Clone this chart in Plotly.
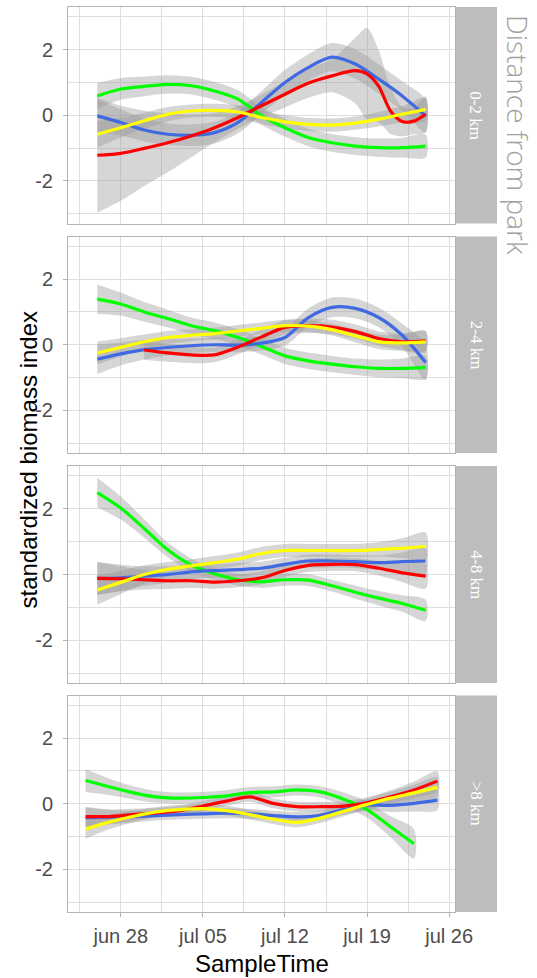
import plotly.graph_objects as go
from plotly.subplots import make_subplots

# ---------------- data ----------------
facet_labels = ["0-2 km", "2-4 km", "4-8 km", ">8 km"]
x_tick_vals = ["2019-06-28", "2019-07-05", "2019-07-12", "2019-07-19", "2019-07-26"]
x_tick_text = ["jun 28", "jul 05", "jul 12", "jul 19", "jul 26"]
y_tick_vals = [-2, 0, 2]
y_tick_text = ["-2", "0", "2"]

dates_a = ["2019-06-26", "2019-06-28", "2019-06-30", "2019-07-02", "2019-07-04",
           "2019-07-06", "2019-07-08", "2019-07-10", "2019-07-12", "2019-07-14",
           "2019-07-16", "2019-07-18", "2019-07-20", "2019-07-22", "2019-07-24"]
dates_b = ["2019-06-25", "2019-06-27", "2019-06-29", "2019-07-01", "2019-07-03",
           "2019-07-05", "2019-07-07", "2019-07-09", "2019-07-11", "2019-07-13",
           "2019-07-15", "2019-07-17", "2019-07-19", "2019-07-21", "2019-07-23",
           "2019-07-25"]

# panel 0-2 km
p1_green = [0.59, 0.80, 0.88, 0.94, 0.90, 0.74, 0.49, -0.02, -0.38, -0.68, -0.84, -0.94, -0.99, -0.99, -0.94]
p1_green_se = [0.40, 0.33, 0.30, 0.28, 0.27, 0.27, 0.27, 0.27, 0.27, 0.27, 0.27, 0.27, 0.28, 0.30, 0.35]
p1_blue = [-0.02, -0.22, -0.45, -0.58, -0.61, -0.53, -0.22, 0.39, 1.00, 1.46, 1.77, 1.56, 1.10, 0.59, -0.02]
p1_blue_se = [0.50, 0.40, 0.35, 0.33, 0.33, 0.33, 0.33, 0.35, 0.38, 0.40, 0.43, 0.45, 0.45, 0.45, 0.50]
p1_red_dates = ["2019-06-26", "2019-06-28", "2019-06-30", "2019-07-02", "2019-07-04",
                "2019-07-06", "2019-07-08", "2019-07-10", "2019-07-12", "2019-07-14",
                "2019-07-16", "2019-07-18", "2019-07-19", "2019-07-20", "2019-07-21",
                "2019-07-22", "2019-07-23", "2019-07-24"]
p1_red = [-1.22, -1.16, -1.01, -0.84, -0.63, -0.38, -0.07, 0.29, 0.64, 0.98, 1.20, 1.36, 1.26, 0.88, 0.13, -0.19, -0.18, 0.03]
p1_red_se = [1.75, 1.45, 1.15, 0.90, 0.65, 0.45, 0.35, 0.35, 0.40, 0.45, 0.50, 1.00, 1.40, 1.10, 0.70, 0.45, 0.40, 0.55]
p1_yellow = [-0.58, -0.38, -0.17, 0.03, 0.13, 0.15, 0.10, -0.07, -0.20, -0.28, -0.30, -0.24, -0.12, 0.03, 0.18]
p1_yellow_se = [0.40, 0.30, 0.25, 0.22, 0.20, 0.20, 0.20, 0.20, 0.20, 0.20, 0.20, 0.20, 0.22, 0.25, 0.35]

# panel 2-4 km
p2_green = [1.39, 1.24, 1.00, 0.80, 0.58, 0.43, 0.22, -0.05, -0.34, -0.49, -0.59, -0.67, -0.72, -0.72, -0.69]
p2_green_se = [0.45, 0.35, 0.30, 0.27, 0.25, 0.25, 0.25, 0.25, 0.25, 0.25, 0.25, 0.25, 0.27, 0.30, 0.35]
p2_blue = [-0.44, -0.28, -0.15, -0.08, -0.03, 0.00, -0.01, 0.05, 0.22, 0.83, 1.14, 1.11, 0.83, 0.29, -0.54]
p2_blue_se = [0.45, 0.35, 0.30, 0.25, 0.22, 0.22, 0.22, 0.22, 0.25, 0.28, 0.30, 0.30, 0.30, 0.35, 0.55]
p2_red_dates = dates_a[2:]
p2_red = [-0.16, -0.25, -0.31, -0.31, -0.07, 0.24, 0.53, 0.58, 0.54, 0.40, 0.19, 0.09, 0.12]
p2_red_se = [0.30, 0.27, 0.25, 0.22, 0.22, 0.22, 0.22, 0.22, 0.22, 0.22, 0.22, 0.25, 0.30]
p2_yellow = [-0.25, -0.08, 0.09, 0.22, 0.29, 0.34, 0.42, 0.50, 0.58, 0.57, 0.46, 0.27, 0.09, 0.06, 0.09]
p2_yellow_se = [0.35, 0.28, 0.22, 0.20, 0.18, 0.18, 0.18, 0.18, 0.18, 0.18, 0.18, 0.20, 0.22, 0.25, 0.32]

# panel 4-8 km
p3_green = [2.49, 2.02, 1.40, 0.75, 0.29, 0.02, -0.16, -0.22, -0.16, -0.17, -0.34, -0.54, -0.72, -0.88, -1.09]
p3_green_se = [0.45, 0.35, 0.28, 0.22, 0.20, 0.18, 0.18, 0.18, 0.18, 0.18, 0.18, 0.20, 0.22, 0.25, 0.32]
p3_blue = [-0.12, -0.10, -0.05, 0.00, 0.08, 0.12, 0.15, 0.19, 0.31, 0.41, 0.41, 0.39, 0.36, 0.39, 0.41]
p3_blue_se = [0.50, 0.40, 0.30, 0.25, 0.22, 0.20, 0.20, 0.20, 0.20, 0.20, 0.20, 0.20, 0.22, 0.28, 0.38]
p3_red = [-0.12, -0.13, -0.16, -0.19, -0.19, -0.23, -0.19, -0.10, 0.12, 0.28, 0.31, 0.30, 0.19, 0.05, -0.05]
p3_red_se = [0.50, 0.38, 0.30, 0.25, 0.22, 0.20, 0.20, 0.20, 0.20, 0.20, 0.20, 0.20, 0.22, 0.28, 0.38]
p3_yellow = [-0.47, -0.24, 0.00, 0.16, 0.26, 0.36, 0.47, 0.64, 0.73, 0.73, 0.73, 0.73, 0.76, 0.80, 0.86]
p3_yellow_se = [0.45, 0.35, 0.28, 0.22, 0.20, 0.20, 0.20, 0.20, 0.20, 0.20, 0.20, 0.20, 0.22, 0.30, 0.42]

# panel >8 km
p4_green_dates = dates_b[:15]
p4_green = [0.71, 0.52, 0.34, 0.21, 0.17, 0.19, 0.24, 0.34, 0.36, 0.42, 0.36, 0.14, -0.18, -0.70, -1.22]
p4_green_se = [0.35, 0.25, 0.20, 0.18, 0.17, 0.17, 0.17, 0.17, 0.17, 0.17, 0.17, 0.20, 0.25, 0.32, 0.45]
p4_blue = [-0.42, -0.41, -0.39, -0.36, -0.33, -0.31, -0.29, -0.31, -0.36, -0.40, -0.35, -0.18, -0.04, -0.05, 0.01, 0.11]
p4_blue_se = [0.30, 0.22, 0.18, 0.15, 0.15, 0.15, 0.15, 0.15, 0.15, 0.15, 0.15, 0.15, 0.17, 0.20, 0.25, 0.30]
p4_red = [-0.39, -0.39, -0.33, -0.28, -0.21, -0.07, 0.08, 0.21, 0.01, -0.09, -0.09, -0.07, 0.03, 0.21, 0.42, 0.69]
p4_red_se = [0.30, 0.22, 0.18, 0.15, 0.15, 0.15, 0.15, 0.15, 0.15, 0.15, 0.15, 0.15, 0.17, 0.20, 0.25, 0.30]
p4_yellow = [-0.77, -0.56, -0.39, -0.25, -0.18, -0.15, -0.21, -0.33, -0.47, -0.57, -0.44, -0.23, -0.02, 0.17, 0.33, 0.50]
p4_yellow_se = [0.30, 0.22, 0.18, 0.15, 0.15, 0.15, 0.15, 0.15, 0.15, 0.15, 0.15, 0.15, 0.17, 0.20, 0.25, 0.30]

series_colors = {"green": "#00FF00", "blue": "#4169E1", "red": "#FF0000", "yellow": "#FFFF00"}

panels = [
    [("green", dates_a, p1_green, p1_green_se), ("blue", dates_a, p1_blue, p1_blue_se),
     ("red", p1_red_dates, p1_red, p1_red_se), ("yellow", dates_a, p1_yellow, p1_yellow_se)],
    [("green", dates_a, p2_green, p2_green_se), ("blue", dates_a, p2_blue, p2_blue_se),
     ("red", p2_red_dates, p2_red, p2_red_se), ("yellow", dates_a, p2_yellow, p2_yellow_se)],
    [("green", dates_a, p3_green, p3_green_se), ("blue", dates_a, p3_blue, p3_blue_se),
     ("red", dates_a, p3_red, p3_red_se), ("yellow", dates_a, p3_yellow, p3_yellow_se)],
    [("green", p4_green_dates, p4_green, p4_green_se), ("blue", dates_b, p4_blue, p4_blue_se),
     ("red", dates_b, p4_red, p4_red_se), ("yellow", dates_b, p4_yellow, p4_yellow_se)],
]

# ---------------- layout geometry ----------------
W, H = 537, 978
ML, MR, MT, MB = 68, 82, 7, 66
PW, PH = W - ML - MR, H - MT - MB
panel_px = [(7, 223.5), (236.5, 453), (466, 683), (695.5, 912)]
domains = [[1 - (b - MT) / PH, 1 - (t - MT) / PH] for t, b in panel_px]
domains[0][1] = 1.0
domains[3][0] = 0.0

fig = make_subplots(rows=4, cols=1, shared_xaxes=True, vertical_spacing=0.02)

band_fill = "rgba(153,153,153,0.4)"
for i, panel in enumerate(panels):
    row = i + 1
    for name, d, v, se in panel:
        up = [a + b for a, b in zip(v, se)]
        lo = [a - b for a, b in zip(v, se)]
        fig.add_trace(go.Scatter(
            x=list(d) + list(d)[::-1], y=up + lo[::-1],
            fill="toself", fillcolor=band_fill, mode="lines",
            line=dict(width=0, shape="spline", smoothing=0.8),
            hoverinfo="skip", showlegend=False), row=row, col=1)
    for name, d, v, se in panel:
        fig.add_trace(go.Scatter(
            x=d, y=v, mode="lines",
            line=dict(color=series_colors[name], width=3.2, shape="spline", smoothing=0.8),
            name=name, showlegend=False), row=row, col=1)

grid_major = "#DEDEDE"
border = "#B3B3B3"
minor_x = ["2019-06-24 12:00", "2019-07-01 12:00", "2019-07-08 12:00",
           "2019-07-15 12:00", "2019-07-22 12:00"]

for i in range(4):
    ax_x = "xaxis" if i == 0 else f"xaxis{i+1}"
    ax_y = "yaxis" if i == 0 else f"yaxis{i+1}"
    last = (i == 3)
    fig.layout[ax_x].update(
        type="date", range=["2019-06-23 12:00", "2019-07-26 12:00"],
        tickmode="array", tickvals=x_tick_vals, ticktext=x_tick_text,
        showticklabels=last, ticks="outside" if last else "", ticklen=4,
        tickcolor=border, tickwidth=1,
        tickfont=dict(family="Liberation Sans, Arial, sans-serif", size=20, color="#4D4D4D"),
        ticklabelstandoff=2,
        showgrid=True, gridcolor=grid_major, gridwidth=1.1,
        minor=dict(tickmode="array", tickvals=minor_x, showgrid=True,
                   gridcolor=grid_major, gridwidth=0.6, ticks=""),
        showline=True, linecolor=border, linewidth=1, mirror=True,
        zeroline=False, domain=[0, 1],
    )
    fig.layout[ax_y].update(
        range=[-3.3, 3.3], tickmode="array", tickvals=y_tick_vals, ticktext=y_tick_text,
        ticks="outside", ticklen=4, tickcolor=border, tickwidth=1,
        tickfont=dict(family="Liberation Sans, Arial, sans-serif", size=20, color="#4D4D4D"),
        ticklabelstandoff=6,
        showgrid=True, gridcolor=grid_major, gridwidth=1.1,
        minor=dict(tickmode="array", tickvals=[-3, -1, 1, 3], showgrid=True,
                   gridcolor=grid_major, gridwidth=0.6, ticks=""),
        showline=True, linecolor=border, linewidth=1, mirror=True,
        zeroline=False, domain=domains[i],
    )

strip_x0 = 1.0
strip_x1 = (497 - ML) / PW
for i, lab in enumerate(facet_labels):
    d0, d1 = domains[i]
    fig.add_shape(type="rect", xref="paper", yref="paper",
                  x0=strip_x0, x1=strip_x1, y0=d0, y1=d1,
                  fillcolor="#BDBDBD", line=dict(width=0), layer="below")
    fig.add_annotation(xref="paper", yref="paper", x=(strip_x0 + strip_x1) / 2,
                       y=(d0 + d1) / 2, text=lab, showarrow=False, textangle=90,
                       font=dict(family="Liberation Serif, Times New Roman, serif",
                                 size=17, color="#FFFFFF"),
                       xanchor="center", yanchor="middle")

fig.add_annotation(xref="paper", yref="paper", x=(518 - ML) / PW, y=1 - (13 - MT) / PH,
                   text="Distance from park", showarrow=False, textangle=90,
                   font=dict(family="Open Sans, sans-serif", size=28, color="#A0A0A0", weight=300),
                   xanchor="center", yanchor="top")

fig.add_annotation(xref="paper", yref="paper", x=(28 - ML) / PW, y=0.5,
                   text="standardized biomass index", showarrow=False, textangle=-90,
                   font=dict(family="Liberation Sans, Arial, sans-serif", size=24, color="#000000"),
                   xanchor="center", yanchor="middle")

fig.add_annotation(xref="paper", yref="paper", x=0.5, y=-(963 - 912) / PH,
                   text="SampleTime", showarrow=False,
                   font=dict(family="Liberation Sans, Arial, sans-serif", size=24, color="#000000"),
                   xanchor="center", yanchor="middle")

fig.update_layout(
    width=W, height=H,
    margin=dict(l=ML, r=MR, t=MT, b=MB, autoexpand=False),
    paper_bgcolor="#FFFFFF", plot_bgcolor="#FFFFFF",
    showlegend=False,
)

fig.write_html("out.html", config={"displayModeBar": False},
               post_script="document.body.style.margin='0px';document.body.style.padding='0px';")
